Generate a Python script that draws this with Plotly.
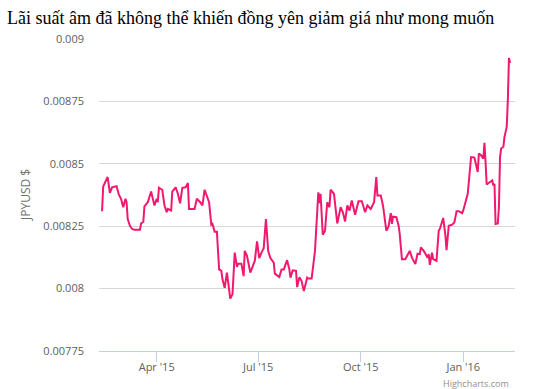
import plotly.graph_objects as go

dates = [
    "2015-02-11", "2015-02-12", "2015-02-16", "2015-02-18", "2015-02-20", "2015-02-24", "2015-02-26", "2015-02-28",
    "2015-03-02", "2015-03-04", "2015-03-05", "2015-03-06", "2015-03-08", "2015-03-10", "2015-03-12", "2015-03-17",
    "2015-03-18", "2015-03-20", "2015-03-21", "2015-03-24", "2015-03-27", "2015-03-30",
    "2015-04-01", "2015-04-02", "2015-04-03", "2015-04-06", "2015-04-08", "2015-04-10", "2015-04-11", "2015-04-14",
    "2015-04-15", "2015-04-18", "2015-04-20", "2015-04-22", "2015-04-24", "2015-04-27", "2015-04-29", "2015-04-30",
    "2015-05-05", "2015-05-07", "2015-05-10", "2015-05-12", "2015-05-14", "2015-05-18", "2015-05-20", "2015-05-21",
    "2015-05-23", "2015-05-25", "2015-05-27", "2015-05-29", "2015-05-30",
    "2015-06-01", "2015-06-03", "2015-06-06", "2015-06-08", "2015-06-10", "2015-06-12", "2015-06-13", "2015-06-16",
    "2015-06-18", "2015-06-19", "2015-06-21", "2015-06-24", "2015-06-26", "2015-06-28", "2015-06-30",
    "2015-07-02", "2015-07-04", "2015-07-06", "2015-07-08", "2015-07-10", "2015-07-12", "2015-07-15", "2015-07-16",
    "2015-07-20", "2015-07-22", "2015-07-24", "2015-07-27", "2015-07-29", "2015-07-30",
    "2015-08-01", "2015-08-04", "2015-08-05", "2015-08-07", "2015-08-09", "2015-08-11", "2015-08-14", "2015-08-15",
    "2015-08-18", "2015-08-21", "2015-08-23", "2015-08-24", "2015-08-25", "2015-08-26", "2015-08-28", "2015-08-30",
    "2015-09-01", "2015-09-03", "2015-09-04", "2015-09-07", "2015-09-10", "2015-09-12", "2015-09-13", "2015-09-15",
    "2015-09-17", "2015-09-19", "2015-09-21", "2015-09-23", "2015-09-26", "2015-09-29",
    "2015-10-02", "2015-10-05", "2015-10-07", "2015-10-10", "2015-10-13", "2015-10-15", "2015-10-16", "2015-10-19",
    "2015-10-21", "2015-10-24", "2015-10-26", "2015-10-28", "2015-10-29", "2015-10-30",
    "2015-11-02", "2015-11-04", "2015-11-05", "2015-11-07", "2015-11-10", "2015-11-14", "2015-11-16", "2015-11-19",
    "2015-11-21", "2015-11-23", "2015-11-24", "2015-11-27", "2015-11-29", "2015-11-30",
    "2015-12-01", "2015-12-02", "2015-12-04", "2015-12-05", "2015-12-08", "2015-12-10", "2015-12-11", "2015-12-13",
    "2015-12-14", "2015-12-16", "2015-12-17", "2015-12-19", "2015-12-22", "2015-12-24", "2015-12-26", "2015-12-28",
    "2015-12-31",
    "2016-01-01", "2016-01-03", "2016-01-05", "2016-01-06", "2016-01-08", "2016-01-11", "2016-01-13", "2016-01-14",
    "2016-01-15", "2016-01-17", "2016-01-19", "2016-01-20", "2016-01-21", "2016-01-22", "2016-01-25", "2016-01-27",
    "2016-01-28", "2016-01-29", "2016-01-30",
    "2016-02-01", "2016-02-02", "2016-02-03", "2016-02-04", "2016-02-06", "2016-02-07", "2016-02-09", "2016-02-10",
    "2016-02-11", "2016-02-12",
]

jpyusd = [
    0.008310, 0.008409, 0.008447, 0.008384, 0.008406, 0.008410, 0.008377, 0.008360,
    0.008326, 0.008360, 0.008346, 0.008279, 0.008252, 0.008239, 0.008236, 0.008236,
    0.008261, 0.008268, 0.008329, 0.008346, 0.008389, 0.008333,
    0.008360, 0.008346, 0.008404, 0.008396, 0.008333, 0.008306, 0.008319, 0.008313,
    0.008389, 0.008406, 0.008380, 0.008342, 0.008404, 0.008406, 0.008423, 0.008319,
    0.008319, 0.008360, 0.008346, 0.008333, 0.008396, 0.008346, 0.008256, 0.008259,
    0.008228, 0.008228, 0.008077, 0.008071, 0.008037,
    0.008003, 0.008064, 0.007960, 0.007977, 0.008144, 0.008087, 0.008100, 0.008100,
    0.008050, 0.008151, 0.008131, 0.008064, 0.008087, 0.008111, 0.008189,
    0.008122, 0.008144, 0.008162, 0.008279, 0.008151, 0.008122, 0.008104, 0.008060,
    0.008046, 0.008077, 0.008077, 0.008114, 0.008077, 0.008044,
    0.008073, 0.008071, 0.008006, 0.008046, 0.008030, 0.007990, 0.008044, 0.008040,
    0.008040, 0.008151, 0.008313, 0.008386, 0.008342, 0.008380, 0.008216, 0.008232,
    0.008346, 0.008326, 0.008396, 0.008380, 0.008261, 0.008313, 0.008326, 0.008306,
    0.008269, 0.008333, 0.008313, 0.008353, 0.008296, 0.008350,
    0.008350, 0.008306, 0.008333, 0.008319, 0.008346, 0.008447, 0.008373, 0.008373,
    0.008333, 0.008232, 0.008249, 0.008302, 0.008259, 0.008288,
    0.008286, 0.008252, 0.008219, 0.008118, 0.008118, 0.008151, 0.008124, 0.008098,
    0.008140, 0.008138, 0.008165, 0.008148, 0.008131, 0.008124,
    0.008138, 0.008095, 0.008144, 0.008118, 0.008111, 0.008232, 0.008239, 0.008265,
    0.008283, 0.008212, 0.008154, 0.008252, 0.008256, 0.008265, 0.008310, 0.008310,
    0.008302,
    0.008313, 0.008342, 0.008380, 0.008427, 0.008527, 0.008525, 0.008481, 0.008467,
    0.008541, 0.008534, 0.008521, 0.008584, 0.008507, 0.008417, 0.008427, 0.008433,
    0.008413, 0.008420, 0.008259,
    0.008261, 0.008326, 0.008527, 0.008561, 0.008568, 0.008608, 0.008648, 0.008756,
    0.008924, 0.008904,
]

y_ticks = [0.00775, 0.008, 0.00825, 0.0085, 0.00875, 0.009]
y_tick_labels = ["0.00775", "0.008", "0.00825", "0.0085", "0.00875", "0.009"]
x_ticks = ["2015-04-01", "2015-07-01", "2015-10-01", "2016-01-01"]
x_tick_labels = ["Apr '15", "Jul '15", "Oct '15", "Jan '16"]

title_text = "Lãi suất âm đã không thể khiến đồng yên giảm giá như mong muốn"
y_title = "JPYUSD $"
credit = "Highcharts.com"

fig = go.Figure()
fig.add_trace(go.Scatter(
    x=dates, y=jpyusd, mode="lines",
    line=dict(color="#F0196F", width=2),
    name="JPYUSD",
))

tick_font = dict(family="Open Sans, DejaVu Sans, sans-serif", size=11, color="#606060")

fig.update_layout(
    width=535, height=389,
    margin=dict(l=99, r=20, t=39, b=38),
    paper_bgcolor="white", plot_bgcolor="white",
    showlegend=False,
    title=dict(text=title_text, x=7 / 535, xanchor="left", y=1 - 18 / 389, yanchor="middle",
               font=dict(family="Liberation Serif, Times New Roman, serif", size=18, color="black")),
    xaxis=dict(
        type="date", range=["2015-02-08 06:00", "2016-02-16 10:00"],
        tickvals=x_ticks, ticktext=x_tick_labels, tickfont=tick_font,
        ticks="outside", ticklen=10, tickcolor="#C0D0E0", tickwidth=1,
        ticklabelstandoff=-4,
        showline=True, linecolor="#C0D0E0", linewidth=1,
        showgrid=False, zeroline=False, fixedrange=True,
    ),
    yaxis=dict(
        range=[0.00775, 0.009], tickvals=y_ticks, ticktext=y_tick_labels, tickfont=tick_font,
        showgrid=True, gridcolor="#D8D8D8", gridwidth=1, showline=False, zeroline=False,
        ticks="", ticklabelstandoff=14, fixedrange=True,
    ),
    annotations=[
        dict(text=y_title, xref="paper", yref="paper", x=-74 / 416, y=0.5, xanchor="center", yanchor="middle",
             textangle=-90, showarrow=False,
             font=dict(family="Open Sans, DejaVu Sans, sans-serif", size=12, color="#707070")),
        dict(text=credit, xref="paper", yref="paper", x=(511 - 99) / 416, y=-(383 - 350.5) / 311,
             xanchor="right", yanchor="middle", showarrow=False,
             font=dict(family="Open Sans, DejaVu Sans, sans-serif", size=9, color="#909090")),
    ],
)

fig.write_html("out.html", config={"displayModeBar": False},
               post_script="document.body.style.margin='0';document.body.style.overflow='hidden';")
